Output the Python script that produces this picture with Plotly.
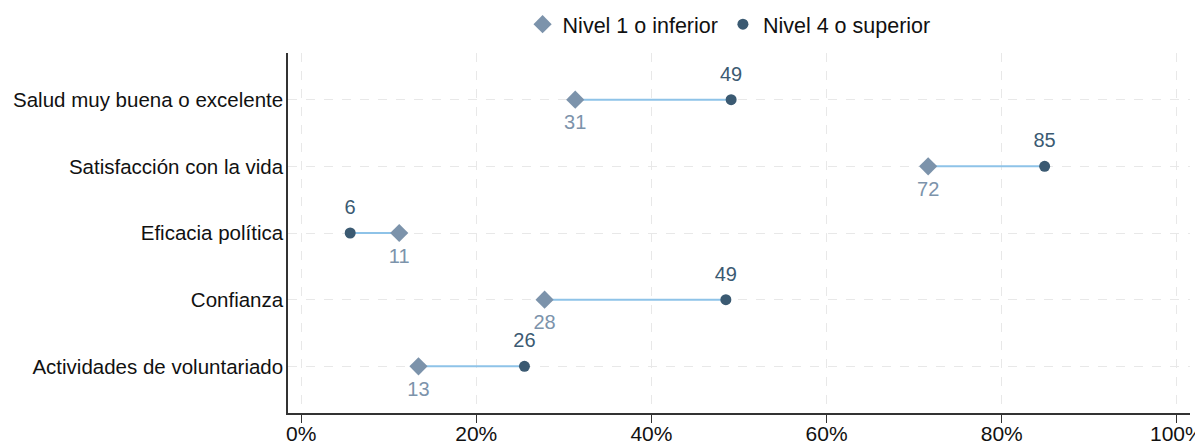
import plotly.graph_objects as go

categories = ["Salud muy buena o excelente", "Satisfacción con la vida", "Eficacia política",
              "Confianza", "Actividades de voluntariado"]
nivel1 = [31.3, 71.6, 11.2, 27.8, 13.4]
nivel4 = [49.1, 84.9, 5.6, 48.5, 25.5]
nivel1_labels = ["31", "72", "11", "28", "13"]
nivel4_labels = ["49", "85", "6", "49", "26"]
x_ticks = [0, 20, 40, 60, 80, 100]
x_tick_labels = ["0%", "20%", "40%", "60%", "80%", "100%"]

C1 = "#7c93ab"
C4 = "#3b5a72"
CLINE = "#8ec3e8"
FONT = "Liberation Sans, Arial, sans-serif"

lx, ly = [], []
for c, a, b in zip(categories, nivel1, nivel4):
    lx += [a, b, None]
    ly += [c, c, None]

fig = go.Figure()
fig.add_trace(go.Scatter(x=lx, y=ly, mode="lines", line=dict(color=CLINE, width=2),
                         showlegend=False, hoverinfo="skip"))
fig.add_trace(go.Scatter(x=nivel1, y=categories, mode="markers", name="Nivel 1 o inferior",
                         marker=dict(symbol="diamond", size=14, color=C1)))
fig.add_trace(go.Scatter(x=nivel4, y=categories, mode="markers", name="Nivel 4 o superior",
                         marker=dict(symbol="circle", size=11, color=C4)))
# value labels (invisible markers used only to set the label offset)
fig.add_trace(go.Scatter(x=nivel1, y=categories, mode="markers+text", showlegend=False,
                         hoverinfo="skip", marker=dict(size=22, opacity=0, color=C1),
                         text=nivel1_labels, textposition="bottom center",
                         textfont=dict(color=C1, size=20, family=FONT)))
fig.add_trace(go.Scatter(x=nivel4, y=categories, mode="markers+text", showlegend=False,
                         hoverinfo="skip", marker=dict(size=21, opacity=0, color=C4),
                         text=nivel4_labels, textposition="top center",
                         textfont=dict(color=C4, size=20, family=FONT)))

fig.update_layout(
    width=1195, height=438,
    margin=dict(l=280, r=13, t=45, b=33, autoexpand=False),
    paper_bgcolor="white", plot_bgcolor="white",
    font=dict(family=FONT, size=21, color="#111111"),
    legend=dict(orientation="h", x=0.489, xanchor="center", y=1.08, yanchor="middle",
                font=dict(size=21.5), itemwidth=30, traceorder="normal"),
    xaxis=dict(range=[-1.5, 101.5], tickvals=x_ticks, ticktext=x_tick_labels,
               showgrid=True, gridcolor="#e8e8e8", griddash="dash", gridwidth=1,
               showline=True, linecolor="#333333", linewidth=1.5,
               ticks="outside", ticklen=8, tickcolor="#333333", zeroline=False,
               ticklabelstandoff=-7, ticklabeloverflow="allow", automargin=False),
    yaxis=dict(categoryorder="array", categoryarray=categories, autorange=False,
               range=[4.7, -0.7], showgrid=True, gridcolor="#e8e8e8", griddash="dash",
               showline=True, linecolor="#333333", linewidth=1.5, ticks="",
               tickfont=dict(size=20.5), ticklabelstandoff=-1, zeroline=False,
               automargin=False),
)
fig.write_html("out.html")
